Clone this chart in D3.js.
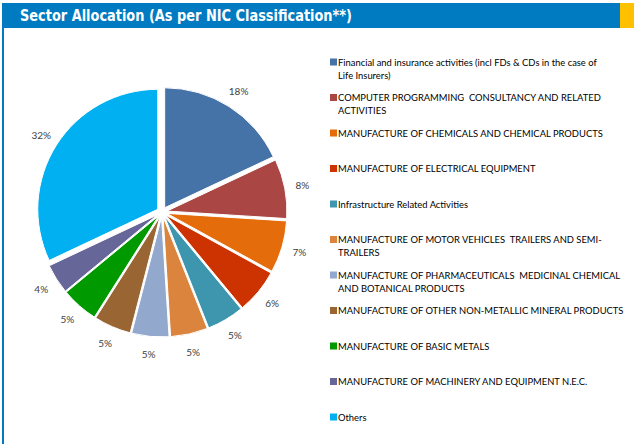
<!DOCTYPE html>
<html>
<head>
<meta charset="utf-8">
<script src="https://cdn.jsdelivr.net/npm/d3@7"></script>
<style>
  html, body { margin: 0; padding: 0; background: #fff; }
  svg { display: block; }
  text { white-space: pre; }
</style>
</head>
<body>
<div id="chart"></div>
<script>
// sectors, in the order the pie runs clockwise from 12 o'clock
const sectors = [
  "Financial and insurance activities (incl FDs & CDs in the case of\nLife Insurers)",
  "COMPUTER PROGRAMMING  CONSULTANCY AND RELATED\nACTIVITIES",
  "MANUFACTURE OF CHEMICALS AND CHEMICAL PRODUCTS",
  "MANUFACTURE OF ELECTRICAL EQUIPMENT",
  "Infrastructure Related Activities",
  "MANUFACTURE OF MOTOR VEHICLES  TRAILERS AND SEMI-\nTRAILERS",
  "MANUFACTURE OF PHARMACEUTICALS  MEDICINAL CHEMICAL\nAND BOTANICAL PRODUCTS",
  "MANUFACTURE OF OTHER NON-METALLIC MINERAL PRODUCTS",
  "MANUFACTURE OF BASIC METALS",
  "MANUFACTURE OF MACHINERY AND EQUIPMENT N.E.C.",
  "Others"
];
const shares = [18, 8, 7, 6, 5, 5, 5, 5, 5, 4, 32];
const sectorColors = ["#4572A7", "#AA4643", "#E46C0A", "#CC3300", "#3D96AE", "#DB843D",
                      "#92A8CD", "#996633", "#009900", "#666699", "#00B0F0"];
const title = "Sector Allocation (As per NIC Classification**)";

const W = 634, H = 444;
const svg = d3.select('#chart').append('svg')
  .attr('width', W)
  .attr('height', H);

// header band + right accent + left rule
svg.append('rect').attr('x', 2).attr('y', 3).attr('width', 618).attr('height', 25).attr('fill', '#007AC1');
svg.append('rect').attr('x', 620).attr('y', 3).attr('width', 14).attr('height', 25).attr('fill', '#FFC000');
svg.append('rect').attr('x', 2).attr('y', 28).attr('width', 2).attr('height', H - 28).attr('fill', '#007AC1');

const titleText = svg.append('text')
  .attr('x', 20).attr('y', 21)
  .attr('fill', '#fff')
  .style('font-family', '"DejaVu Sans Condensed", "DejaVu Sans", sans-serif')
  .style('font-weight', 'bold')
  .style('font-size', '15px')
  .text(title);
// fit the title to the width it has in the reference
if (Math.abs(titleText.node().getComputedTextLength() - 332) > 4) {
  titleText.attr('textLength', 332).attr('lengthAdjust', 'spacingAndGlyphs');
}

// pie
const cx = 162, cy = 212, r = 120, explode = 5, labelR = 143;
const data = shares.map((v, i) => ({ name: sectors[i], value: v, color: sectorColors[i] }));
const pie = d3.pie().sort(null).value(d => d.value);
const arcs = pie(data);
const arc = d3.arc().innerRadius(0).outerRadius(r);

const g = svg.append('g').attr('transform', `translate(${cx},${cy})`);

g.selectAll('path')
  .data(arcs)
  .join('path')
  .attr('d', arc)
  .attr('fill', d => d.data.color)
  .attr('stroke', '#fff')
  .attr('stroke-width', 1)
  .attr('transform', d => {
    const a = (d.startAngle + d.endAngle) / 2;
    return `translate(${Math.sin(a) * explode},${-Math.cos(a) * explode})`;
  });

g.selectAll('text.pct')
  .data(arcs)
  .join('text')
  .attr('class', 'pct')
  .attr('x', d => Math.sin((d.startAngle + d.endAngle) / 2) * labelR)
  .attr('y', d => -Math.cos((d.startAngle + d.endAngle) / 2) * labelR)
  .attr('text-anchor', 'middle')
  .attr('dominant-baseline', 'central')
  .attr('fill', '#404040')
  .style('font-family', 'Lato, sans-serif')
  .style('font-size', '10px')
  .text(d => d.data.value + '%');

// legend font size: longest single line spans ~286px in the reference
const probe = svg.append('text')
  .style('font-family', 'Lato, sans-serif')
  .style('font-size', '10px')
  .text(sectors[7]);
const legendFont = 10 * 286 / probe.node().getComputedTextLength();
probe.remove();

const legendY = d3.scalePoint().domain(d3.range(sectors.length)).range([62, 417]);
const legend = svg.append('g');
const items = legend.selectAll('g')
  .data(data)
  .join('g')
  .attr('transform', (d, i) => `translate(330,${legendY(i)})`);

items.append('rect')
  .attr('x', 0).attr('y', -3.5)
  .attr('width', 7).attr('height', 7)
  .attr('fill', d => d.color);

items.append('text')
  .attr('x', 8)
  .attr('y', 0)
  .attr('fill', '#000')
  .style('font-family', 'Lato, sans-serif')
  .style('font-size', legendFont + 'px')
  .selectAll('tspan')
  .data(d => d.name.split('\n'))
  .join('tspan')
  .attr('x', 8)
  .attr('y', (d, i) => i * 13)
  .attr('dominant-baseline', 'central')
  .text(d => d);
</script>
</body>
</html>
